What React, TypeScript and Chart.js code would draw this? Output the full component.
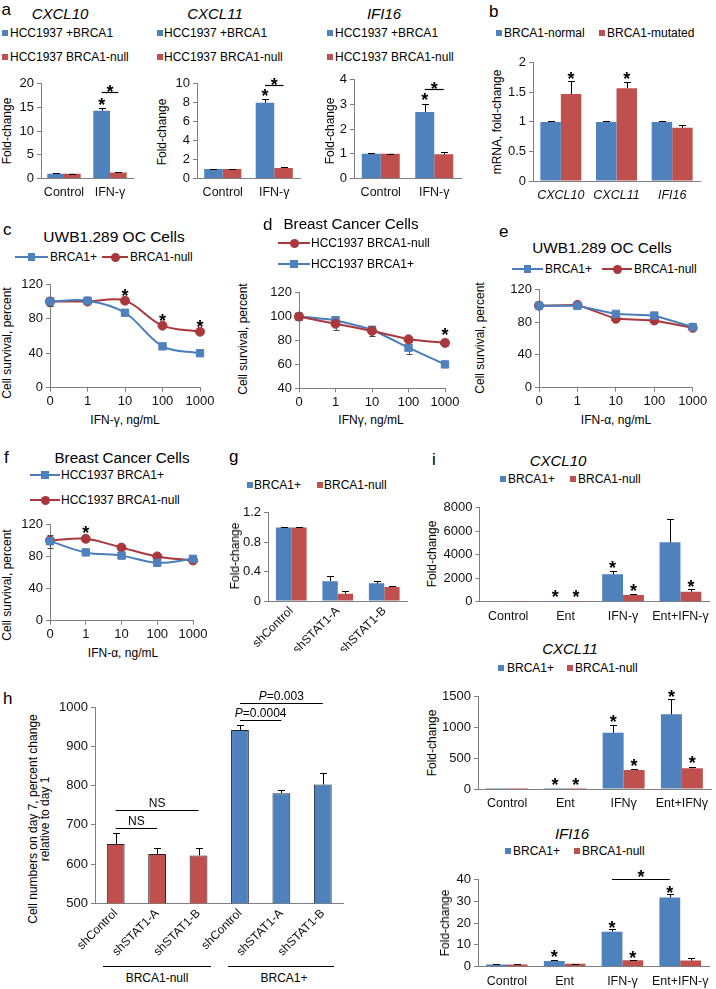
import React, { useEffect, useRef } from "react";
import { Chart, registerables } from "chart.js";

Chart.register(...registerables);

const FONT = "'Liberation Sans', Arial, Helvetica, sans-serif";
Chart.defaults.font.family = FONT;
Chart.defaults.color = "#000";

const BLUE = "#4F81BD";
const RED = "#C0504D";
const LBLUE = "#4A7EBB";
const LRED = "#A9373B";
const AXIS = "#808080";

// ---------------- DATA ----------------
// Panel a
const aCategories = ["Control", "IFN-γ"];
const aCxcl10Plus = [1, 14.3];
const aCxcl10PlusErr = [0.08, 0.6];
const aCxcl10Null = [1, 1.25];
const aCxcl10NullErr = [0.05, 0.15];
const aCxcl11Plus = [1, 8.0];
const aCxcl11PlusErr = [0.04, 0.4];
const aCxcl11Null = [1, 1.1];
const aCxcl11NullErr = [0.03, 0.1];
const aIfi16Plus = [1, 2.7];
const aIfi16PlusErr = [0.02, 0.32];
const aIfi16Null = [1, 0.98];
const aIfi16NullErr = [0.01, 0.1];

// Panel b
const bGenes = ["CXCL10", "CXCL11", "IFI16"];
const bNormal = [1, 1, 1];
const bNormalErr = [0.01, 0.01, 0.01];
const bMutated = [1.47, 1.57, 0.9];
const bMutatedErr = [0.22, 0.11, 0.05];

// Dose-response panels
const doseLabels = ["0", "1", "10", "100", "1000"];
const cPlus = [100, 101, 87, 48, 40];
const cPlusErr = [5, 2, 2, 2, 1.5];
const cNull = [100, 100, 101, 72, 65];
const cNullErr = [1, 1.5, 1, 1.5, 1.5];
const dNull = [100, 94, 88, 81, 78];
const dNullErr = [3, 5, 4, 2, 3];
const dPlus = [100, 97, 89, 74, 60];
const dPlusErr = [3, 3, 3, 5, 2];
const ePlus = [100, 100, 90, 88, 74];
const ePlusErr = [2, 1.5, 1, 1, 1];
const eNull = [100, 101, 84, 82, 73];
const eNullErr = [2, 1, 1, 1, 1];
const fPlus = [99, 85, 81, 72, 77];
const fPlusErr = [8, 2, 3, 2, 2];
const fNull = [100, 102, 91, 80, 75];
const fNullErr = [4, 3, 2, 2, 2];

// Panel g
const gLabels = ["shControl", "shSTAT1-A", "shSTAT1-B"];
const gPlus = [1, 0.27, 0.24];
const gPlusErr = [0.005, 0.07, 0.03];
const gNull = [1, 0.1, 0.19];
const gNullErr = [0.005, 0.04, 0.01];

// Panel h
const hLabels = ["shControl", "shSTAT1-A", "shSTAT1-B", "shControl", "shSTAT1-A", "shSTAT1-B"];
const hGroup = ["BRCA1-null", "BRCA1-null", "BRCA1-null", "BRCA1+", "BRCA1+", "BRCA1+"];
const hValues = [651, 626, 622, 942, 781, 803];
const hErr = [28, 14, 18, 14, 7, 30];

// Panel i
const iTreatA = ["Control", "Ent", "IFN-γ", "Ent+IFN-γ"];
const iTreatB = ["Control", "Ent", "IFNγ", "Ent+IFNγ"];
const iCxcl10Plus = [1, 0.3, 2330, 5050];
const iCxcl10PlusErr = [0, 0, 310, 1990];
const iCxcl10Null = [1, 0.1, 570, 850];
const iCxcl10NullErr = [0, 0, 80, 230];
const iCxcl11Plus = [1, 0.3, 915, 1214];
const iCxcl11PlusErr = [0, 0, 125, 250];
const iCxcl11Null = [1, 0.1, 309, 336];
const iCxcl11NullErr = [0, 0, 16, 27];
const iIfi16Plus = [1, 2.6, 16.0, 31.7];
const iIfi16PlusErr = [0.1, 0.3, 1.2, 1.4];
const iIfi16Null = [1, 1.3, 2.9, 2.8];
const iIfi16NullErr = [0.1, 0.1, 0.3, 1.0];

// ---------------- HELPERS ----------------
type Box = { x0: number; x1: number; y0: number; y1: number; l: number; r: number; t: number; b: number };
type Star = { i: number; d: number; v: number };
type Part = { t: string; it?: boolean };
type Sig = { i1: number; d1: number; i2: number; d2: number; v: number; label?: Part[]; star?: boolean; gap?: number };
type Geo = { yW: number; xH: number; pad: { left: number; right: number; top: number; bottom: number } };

const fmt = (v: number) => String(Math.round(v * 1000) / 1000);

function drawErr(chart: any) {
  const ys = chart.scales.y;
  const ctx = chart.ctx;
  chart.data.datasets.forEach((ds: any, di: number) => {
    const errs = ds.errors;
    if (!errs) return;
    const meta = chart.getDatasetMeta(di);
    meta.data.forEach((el: any, i: number) => {
      const v = ds.data[i];
      const e = errs[i];
      if (!e) return;
      const x = Math.round(el.x) + 0.5;
      const yt = Math.round(ys.getPixelForValue(v + e)) + 0.5;
      const yb = ys.getPixelForValue(ds.errorBoth ? v - e : v);
      const cap = ds.errorCap ?? 3.5;
      ctx.save();
      ctx.strokeStyle = ds.errorColor ?? "#000";
      ctx.lineWidth = 1;
      ctx.beginPath();
      ctx.moveTo(x, yb);
      ctx.lineTo(x, yt);
      ctx.moveTo(x - cap, yt);
      ctx.lineTo(x + cap, yt);
      if (ds.errorBoth) {
        const ybb = Math.round(yb) + 0.5;
        ctx.moveTo(x - cap, ybb);
        ctx.lineTo(x + cap, ybb);
      }
      ctx.stroke();
      ctx.restore();
    });
  });
}

const errorBars = {
  id: "errorBars",
  beforeDatasetsDraw(chart: any) {
    if (chart.config.type === "line") drawErr(chart);
  },
  afterDatasetsDraw(chart: any) {
    if (chart.config.type !== "line") drawErr(chart);
  },
};

const STAR_FS = 18;
function drawStar(ctx: any, x: number, cy: number) {
  ctx.save();
  ctx.font = `bold ${STAR_FS}px ${FONT}`;
  ctx.fillStyle = "#000";
  ctx.textAlign = "center";
  ctx.textBaseline = "alphabetic";
  ctx.fillText("*", x, cy + 0.575 * STAR_FS);
  ctx.restore();
}

function makeAnnot(stars: Star[], sigs: Sig[]) {
  return {
    id: "annot",
    afterDatasetsDraw(chart: any) {
      const ctx = chart.ctx;
      const ys = chart.scales.y;
      const px = (i: number, d: number) => chart.getDatasetMeta(d).data[i].x;
      for (const s of sigs) {
        const xa = px(s.i1, s.d1);
        const xb = px(s.i2, s.d2);
        const y = Math.round(ys.getPixelForValue(s.v)) + 0.5;
        ctx.save();
        ctx.strokeStyle = "#000";
        ctx.lineWidth = 1.2;
        ctx.beginPath();
        ctx.moveTo(xa, y);
        ctx.lineTo(xb, y);
        ctx.stroke();
        ctx.restore();
        const mid = (xa + xb) / 2;
        if (s.star) drawStar(ctx, mid, y - (s.gap ?? 5));
        if (s.label) {
          ctx.save();
          ctx.fillStyle = "#000";
          ctx.textBaseline = "middle";
          ctx.textAlign = "left";
          let total = 0;
          for (const p of s.label) {
            ctx.font = `${p.it ? "italic " : ""}12px ${FONT}`;
            total += ctx.measureText(p.t).width;
          }
          let cx = mid - total / 2;
          for (const p of s.label) {
            ctx.font = `${p.it ? "italic " : ""}12px ${FONT}`;
            ctx.fillText(p.t, cx, y - (s.gap ?? 7));
            cx += ctx.measureText(p.t).width;
          }
          ctx.restore();
        }
      }
      for (const s of stars) drawStar(ctx, px(s.i, s.d), ys.getPixelForValue(s.v));
    },
  };
}

function ChartCanvas({ box, build }: { box: Box; build: (g: Geo) => any }) {
  const ref = useRef<HTMLCanvasElement>(null);
  const left = Math.floor(box.x0 - box.l);
  const top = Math.floor(box.y0 - box.t);
  const width = Math.ceil(box.x1 + box.r - left);
  const height = Math.ceil(box.y1 + box.b - top);
  useEffect(() => {
    const geo: Geo = {
      yW: box.x0 - left,
      xH: top + height - box.y1,
      pad: { left: 0, bottom: 0, top: box.y0 - top, right: left + width - box.x1 },
    };
    const chart = new Chart(ref.current as HTMLCanvasElement, build(geo));
    return () => chart.destroy();
  }, []);
  return (
    <canvas
      ref={ref}
      width={width}
      height={height}
      style={{ position: "absolute", left, top, width, height }}
    />
  );
}

function yAxis(geo: Geo, min: number, max: number, step: number) {
  return {
    min,
    max,
    afterFit: (s: any) => {
      s.width = geo.yW;
    },
    ticks: { stepSize: step, font: { size: 13 }, color: "#111", padding: 3, callback: (v: any) => fmt(Number(v)) },
    grid: { display: true, drawOnChartArea: false, drawTicks: true, tickLength: 4, color: AXIS },
    border: { display: true, color: AXIS, width: 1 },
  };
}

type BarSeries = { data: number[]; err: number[]; color: string | string[]; border?: string };

function BarPanel(p: {
  box: Box;
  labels: string[];
  series: BarSeries[];
  y: [number, number, number];
  catPct: number;
  barPct?: number;
  catSize?: number;
  italic?: boolean;
  rotate?: number;
  pad?: number;
  stars?: Star[];
  sigs?: Sig[];
}) {
  return (
    <ChartCanvas
      box={p.box}
      build={(geo) => ({
        type: "bar",
        data: {
          labels: p.labels,
          datasets: p.series.map((s) => ({
            data: s.data,
            errors: s.err,
            backgroundColor: s.color,
            borderColor: s.border ?? "rgba(0,0,0,0)",
            borderWidth: s.border ? 1 : 0,
            categoryPercentage: p.catPct,
            barPercentage: p.barPct ?? 1,
          })),
        },
        options: {
          responsive: false,
          animation: false,
          events: [],
          layout: { padding: geo.pad },
          plugins: { legend: { display: false }, tooltip: { enabled: false } },
          scales: {
            x: {
              z: 1,
              afterFit: (s: any) => {
                s.height = geo.xH;
              },
              ticks: {
                font: { size: p.catSize ?? 12.5, style: p.italic ? "italic" : "normal" },
                color: "#111",
                padding: p.pad ?? 7,
                autoSkip: false,
                minRotation: p.rotate ?? 0,
                maxRotation: p.rotate ?? 0,
              },
              grid: { display: true, drawOnChartArea: false, drawTicks: false, color: AXIS },
              border: { display: true, color: AXIS, width: 1 },
            },
            y: yAxis(geo, p.y[0], p.y[1], p.y[2]),
          },
        },
        plugins: [errorBars, makeAnnot(p.stars ?? [], p.sigs ?? [])],
      })}
    />
  );
}

type LineSeries = { data: number[]; err: number[]; line: string; fill: string; marker: "rect" | "circle" };

function LinePanel(p: {
  box: Box;
  labels: string[];
  series: LineSeries[];
  y: [number, number, number];
  tension: number;
  stars?: Star[];
}) {
  return (
    <ChartCanvas
      box={p.box}
      build={(geo) => ({
        type: "line",
        data: {
          labels: p.labels,
          datasets: p.series.map((s) => ({
            data: s.data,
            errors: s.err,
            errorBoth: true,
            errorColor: "#444",
            errorCap: 3,
            borderColor: s.line,
            backgroundColor: s.fill,
            pointBackgroundColor: s.fill,
            pointBorderColor: s.fill,
            pointBorderWidth: 1,
            pointStyle: s.marker,
            pointRadius: s.marker === "rect" ? 5.2 : 4.5,
            borderWidth: 2,
            tension: p.tension,
            fill: false,
            clip: false,
          })),
        },
        options: {
          responsive: false,
          animation: false,
          events: [],
          layout: { padding: geo.pad },
          plugins: { legend: { display: false }, tooltip: { enabled: false } },
          scales: {
            x: {
              afterFit: (s: any) => {
                s.height = geo.xH;
              },
              ticks: { font: { size: 13 }, color: "#111", padding: 2, autoSkip: false, maxRotation: 0 },
              grid: { display: true, drawOnChartArea: false, drawTicks: true, tickLength: 4, color: AXIS },
              border: { display: true, color: AXIS, width: 1 },
            },
            y: yAxis(geo, p.y[0], p.y[1], p.y[2]),
          },
        },
        plugins: [errorBars, makeAnnot(p.stars ?? [], [])],
      })}
    />
  );
}

function Txt(props: {
  x: number;
  y: number;
  children: any;
  size?: number;
  align?: "left" | "center" | "right";
  rot?: number;
  it?: boolean;
  lh?: number;
}) {
  const { x, y, children, size = 12, align = "left", rot = 0, it = false, lh = 1 } = props;
  const tx = align === "center" ? "-50%" : align === "right" ? "-100%" : "0%";
  return (
    <div
      style={{
        position: "absolute",
        left: x,
        top: y,
        transform: `translate(${tx}, -50%) rotate(${rot}deg)`,
        fontSize: size,
        fontStyle: it ? "italic" : "normal",
        lineHeight: lh,
        whiteSpace: "pre",
        textAlign: "center",
        color: "#000",
        fontFamily: FONT,
      }}
    >
      {children}
    </div>
  );
}

const Letter = ({ x, base, ch }: { x: number; base: number; ch: string }) => (
  <Txt x={x} y={base - 6} size={17}>
    {ch}
  </Txt>
);

function SqKey({ x, y, color, tx, text }: { x: number; y: number; color: string; tx: number; text: string }) {
  return (
    <>
      <div style={{ position: "absolute", left: x, top: y - 3, width: 6, height: 6, background: color }} />
      <Txt x={tx} y={y}>
        {text}
      </Txt>
    </>
  );
}

function LineKey(p: { x1: number; x2: number; y: number; line: string; fill: string; marker: "rect" | "circle"; tx: number; text: string }) {
  const cx = (p.x1 + p.x2) / 2;
  const s = p.marker === "rect" ? 7.5 : 9;
  return (
    <>
      <div style={{ position: "absolute", left: p.x1, top: p.y - 1, width: p.x2 - p.x1, height: 2, background: p.line }} />
      <div
        style={{
          position: "absolute",
          left: cx - s / 2,
          top: p.y - s / 2,
          width: s,
          height: s,
          background: p.fill,
          borderRadius: p.marker === "circle" ? "50%" : 0,
        }}
      />
      <Txt x={p.tx} y={p.y}>
        {p.text}
      </Txt>
    </>
  );
}

const HLine = ({ x1, x2, y }: { x1: number; x2: number; y: number }) => (
  <div style={{ position: "absolute", left: x1, top: y, width: x2 - x1, height: 1, background: "#000" }} />
);

export default function App() {
  return (
    <div
      style={{
        position: "absolute",
        left: 0,
        top: 0,
        width: 716,
        height: 989,
        background: "#fff",
        overflow: "hidden",
        fontFamily: FONT,
      }}
    >
      {/* ---------- a ---------- */}
      <BarPanel
        box={{ x0: 41, x1: 133, y0: 83, y1: 178.5, l: 24, r: 4, t: 10, b: 26 }}
        labels={aCategories}
        series={[
          { data: aCxcl10Plus, err: aCxcl10PlusErr, color: BLUE },
          { data: aCxcl10Null, err: aCxcl10NullErr, color: RED },
        ]}
        y={[0, 20, 5]}
        catPct={0.726}
        stars={[{ i: 1, d: 0, v: 16.4 }]}
        sigs={[{ i1: 1, d1: 0, i2: 1, d2: 1, v: 18.3, star: true }]}
      />
      <BarPanel
        box={{ x0: 197, x1: 300, y0: 83, y1: 178.5, l: 24, r: 4, t: 10, b: 26 }}
        labels={aCategories}
        series={[
          { data: aCxcl11Plus, err: aCxcl11PlusErr, color: BLUE },
          { data: aCxcl11Null, err: aCxcl11NullErr, color: RED },
        ]}
        y={[0, 10, 2]}
        catPct={0.72}
        stars={[{ i: 1, d: 0, v: 9.16 }]}
        sigs={[{ i1: 1, d1: 0, i2: 1, d2: 1, v: 9.9, star: true }]}
      />
      <BarPanel
        box={{ x0: 354, x1: 461, y0: 79.5, y1: 178.5, l: 18, r: 4, t: 10, b: 26 }}
        labels={aCategories}
        series={[
          { data: aIfi16Plus, err: aIfi16PlusErr, color: BLUE },
          { data: aIfi16Null, err: aIfi16NullErr, color: RED },
        ]}
        y={[0, 4, 1]}
        catPct={0.71}
        stars={[{ i: 1, d: 0, v: 3.34 }]}
        sigs={[{ i1: 1, d1: 0, i2: 1, d2: 1, v: 3.63, star: true }]}
      />

      {/* ---------- b ---------- */}
      <BarPanel
        box={{ x0: 533, x1: 700, y0: 62, y1: 181, l: 26, r: 12, t: 10, b: 26 }}
        labels={bGenes}
        series={[
          { data: bNormal, err: bNormalErr, color: BLUE },
          { data: bMutated, err: bMutatedErr, color: RED },
        ]}
        y={[0, 2, 0.5]}
        catPct={0.736}
        italic
        stars={[
          { i: 0, d: 1, v: 1.795 },
          { i: 1, d: 1, v: 1.795 },
        ]}
      />

      {/* ---------- c ---------- */}
      <LinePanel
        box={{ x0: 50, x1: 200, y0: 284.3, y1: 387.7, l: 30, r: 20, t: 14, b: 22 }}
        labels={doseLabels}
        series={[
          { data: cPlus, err: cPlusErr, line: LBLUE, fill: BLUE, marker: "rect" },
          { data: cNull, err: cNullErr, line: LRED, fill: LRED, marker: "circle" },
        ]}
        y={[0, 120, 20]}
        tension={0.35}
        stars={[
          { i: 2, d: 1, v: 111.4 },
          { i: 3, d: 1, v: 82.4 },
          { i: 4, d: 1, v: 75.4 },
        ]}
      />

      {/* ---------- d ---------- */}
      <LinePanel
        box={{ x0: 299, x1: 445, y0: 292.7, y1: 388.3, l: 30, r: 20, t: 14, b: 22 }}
        labels={doseLabels}
        series={[
          { data: dNull, err: dNullErr, line: LRED, fill: LRED, marker: "circle" },
          { data: dPlus, err: dPlusErr, line: LBLUE, fill: BLUE, marker: "rect" },
        ]}
        y={[40, 120, 20]}
        tension={0.1}
        stars={[{ i: 4, d: 0, v: 88.4 }]}
      />

      {/* ---------- e ---------- */}
      <LinePanel
        box={{ x0: 539, x1: 692.7, y0: 289.3, y1: 387.7, l: 30, r: 20, t: 12, b: 22 }}
        labels={doseLabels}
        series={[
          { data: ePlus, err: ePlusErr, line: LBLUE, fill: BLUE, marker: "rect" },
          { data: eNull, err: eNullErr, line: LRED, fill: LRED, marker: "circle" },
        ]}
        y={[0, 120, 20]}
        tension={0}
      />

      {/* ---------- f ---------- */}
      <LinePanel
        box={{ x0: 50, x1: 193, y0: 524.3, y1: 620.7, l: 30, r: 20, t: 14, b: 22 }}
        labels={doseLabels}
        series={[
          { data: fPlus, err: fPlusErr, line: LBLUE, fill: BLUE, marker: "rect" },
          { data: fNull, err: fNullErr, line: LRED, fill: LRED, marker: "circle" },
        ]}
        y={[0, 120, 20]}
        tension={0.35}
        stars={[{ i: 1, d: 1, v: 115 }]}
      />

      {/* ---------- g ---------- */}
      <BarPanel
        box={{ x0: 268, x1: 407.5, y0: 512.3, y1: 601, l: 28, r: 6, t: 10, b: 50 }}
        labels={gLabels}
        series={[
          { data: gPlus, err: gPlusErr, color: BLUE },
          { data: gNull, err: gNullErr, color: RED },
        ]}
        y={[0, 1.2, 0.4]}
        catPct={0.66}
        catSize={12}
        rotate={45}
        pad={3}
      />

      {/* ---------- h ---------- */}
      <BarPanel
        box={{ x0: 95, x1: 343.5, y0: 707.3, y1: 903.3, l: 42, r: 8, t: 26, b: 56 }}
        labels={hLabels}
        series={[
          {
            data: hValues,
            err: hErr,
            color: hGroup.map((g) => (g === "BRCA1+" ? BLUE : RED)),
            border: "#262626",
          },
        ]}
        y={[500, 1000, 100]}
        catPct={1}
        barPct={0.43}
        catSize={12}
        rotate={45}
        pad={3}
        sigs={[
          { i1: 0, d1: 0, i2: 1, d2: 0, v: 693, label: [{ t: "NS" }] },
          { i1: 0, d1: 0, i2: 2, d2: 0, v: 738, label: [{ t: "NS" }] },
          { i1: 3, d1: 0, i2: 4, d2: 0, v: 967.6, label: [{ t: "P", it: true }, { t: "=0.0004" }] },
          { i1: 3, d1: 0, i2: 5, d2: 0, v: 1010, label: [{ t: "P", it: true }, { t: "=0.003" }] },
        ]}
      />

      {/* ---------- i ---------- */}
      <BarPanel
        box={{ x0: 479.5, x1: 714, y0: 507.7, y1: 601.7, l: 38, r: 2, t: 12, b: 22 }}
        labels={iTreatA}
        series={[
          { data: iCxcl10Plus, err: iCxcl10PlusErr, color: BLUE },
          { data: iCxcl10Null, err: iCxcl10NullErr, color: RED },
        ]}
        y={[0, 8000, 2000]}
        catPct={0.727}
        stars={[
          { i: 1, d: 0, v: 740 },
          { i: 1, d: 1, v: 740 },
          { i: 2, d: 0, v: 3209 },
          { i: 2, d: 1, v: 1310 },
          { i: 3, d: 1, v: 1651 },
        ]}
      />
      <BarPanel
        box={{ x0: 478, x1: 711, y0: 696.7, y1: 789, l: 38, r: 5, t: 14, b: 22 }}
        labels={iTreatB}
        series={[
          { data: iCxcl11Plus, err: iCxcl11PlusErr, color: BLUE },
          { data: iCxcl11Null, err: iCxcl11NullErr, color: RED },
        ]}
        y={[0, 1500, 500]}
        catPct={0.72}
        stars={[
          { i: 1, d: 0, v: 135 },
          { i: 1, d: 1, v: 135 },
          { i: 2, d: 0, v: 1162 },
          { i: 2, d: 1, v: 450 },
          { i: 3, d: 0, v: 1569 },
          { i: 3, d: 1, v: 491 },
        ]}
      />
      <BarPanel
        box={{ x0: 478, x1: 712, y0: 879.3, y1: 966.7, l: 28, r: 4, t: 16, b: 22 }}
        labels={iTreatA}
        series={[
          { data: iIfi16Plus, err: iIfi16PlusErr, color: BLUE },
          { data: iIfi16Null, err: iIfi16NullErr, color: RED },
        ]}
        y={[0, 40, 10]}
        catPct={0.72}
        stars={[
          { i: 1, d: 0, v: 6.3 },
          { i: 2, d: 0, v: 19.6 },
          { i: 2, d: 1, v: 6.0 },
          { i: 3, d: 0, v: 35.9 },
        ]}
        sigs={[{ i1: 2, d1: 0, i2: 3, d2: 0, v: 40.1, star: true, gap: 7 }]}
      />

      {/* ---------- texts: a ---------- */}
      <Letter x={1.5} base={15} ch="a" />
      <Txt x={60} y={13.3} size={15} align="center" it>
        CXCL10
      </Txt>
      <Txt x={215} y={13.3} size={15} align="center" it>
        CXCL11
      </Txt>
      <Txt x={384} y={13.3} size={15} align="center" it>
        IFI16
      </Txt>
      <SqKey x={2} y={33} color={BLUE} tx={10} text="HCC1937 +BRCA1" />
      <SqKey x={2} y={57} color={RED} tx={10} text="HCC1937 BRCA1-null" />
      <SqKey x={157} y={33} color={BLUE} tx={164} text="HCC1937 +BRCA1" />
      <SqKey x={157} y={57} color={RED} tx={164} text="HCC1937 BRCA1-null" />
      <SqKey x={327} y={33} color={BLUE} tx={335} text="HCC1937 +BRCA1" />
      <SqKey x={327} y={57} color={RED} tx={335} text="HCC1937 BRCA1-null" />
      <Txt x={6.5} y={131} align="center" rot={-90}>
        Fold-change
      </Txt>
      <Txt x={162} y={131.5} align="center" rot={-90}>
        Fold-change
      </Txt>
      <Txt x={330} y={131} align="center" rot={-90}>
        Fold-change
      </Txt>

      {/* ---------- b ---------- */}
      <Letter x={489} base={16.5} ch="b" />
      <SqKey x={496} y={33} color={BLUE} tx={504} text="BRCA1-normal" />
      <SqKey x={599} y={33} color={RED} tx={607} text="BRCA1-mutated" />
      <Txt x={497} y={121.5} align="center" rot={-90}>
        mRNA, fold-change
      </Txt>

      {/* ---------- c ---------- */}
      <Letter x={3} base={235} ch="c" />
      <Txt x={114} y={237} size={15.5} align="center">
        UWB1.289 OC Cells
      </Txt>
      <LineKey x1={15} x2={48} y={257} line={LBLUE} fill={BLUE} marker="rect" tx={50} text="BRCA1+" />
      <LineKey x1={102} x2={128} y={257} line={LRED} fill={LRED} marker="circle" tx={130} text="BRCA1-null" />
      <Txt x={7} y={343} align="center" rot={-90}>
        Cell survival, percent
      </Txt>
      <Txt x={125} y={420} align="center">
        IFN-γ, ng/mL
      </Txt>

      {/* ---------- d ---------- */}
      <Letter x={263} base={229.5} ch="d" />
      <Txt x={351} y={224} size={15.2} align="center">
        Breast Cancer Cells
      </Txt>
      <LineKey x1={278} x2={310} y={243} line={LRED} fill={LRED} marker="circle" tx={311} text="HCC1937 BRCA1-null" />
      <LineKey x1={278} x2={310} y={264} line={LBLUE} fill={BLUE} marker="rect" tx={311} text="HCC1937 BRCA1+" />
      <Txt x={243} y={339} align="center" rot={-90}>
        Cell survival, percent
      </Txt>
      <Txt x={371} y={420} align="center">
        IFNγ, ng/mL
      </Txt>

      {/* ---------- e ---------- */}
      <Letter x={499} base={237} ch="e" />
      <Txt x={602} y={248} size={15.3} align="center">
        UWB1.289 OC Cells
      </Txt>
      <LineKey x1={512} x2={543} y={269} line={LBLUE} fill={BLUE} marker="rect" tx={545} text="BRCA1+" />
      <LineKey x1={602} x2={632} y={269} line={LRED} fill={LRED} marker="circle" tx={634} text="BRCA1-null" />
      <Txt x={480} y={338} align="center" rot={-90}>
        Cell survival, percent
      </Txt>
      <Txt x={616} y={420} align="center">
        IFN-α, ng/mL
      </Txt>

      {/* ---------- f ---------- */}
      <Letter x={4} base={463} ch="f" />
      <Txt x={122} y={457.5} size={15.2} align="center">
        Breast Cancer Cells
      </Txt>
      <LineKey x1={30} x2={60} y={475} line={LBLUE} fill={BLUE} marker="rect" tx={61} text="HCC1937 BRCA1+" />
      <LineKey x1={30} x2={60} y={500} line={LRED} fill={LRED} marker="circle" tx={61} text="HCC1937 BRCA1-null" />
      <Txt x={7} y={585} align="center" rot={-90}>
        Cell survival, percent
      </Txt>
      <Txt x={123} y={653} align="center">
        IFN-α, ng/mL
      </Txt>

      {/* ---------- g ---------- */}
      <Letter x={229} base={462} ch="g" />
      <SqKey x={247} y={485} color={BLUE} tx={254} text="BRCA1+" />
      <SqKey x={317} y={485} color={RED} tx={324} text="BRCA1-null" />
      <Txt x={235} y={556} align="center" rot={-90}>
        Fold-change
      </Txt>

      {/* ---------- h ---------- */}
      <Letter x={3} base={704} ch="h" />
      <Txt x={39} y={819} align="center" rot={-90}>
        {"Cell numbers on day 7, percent change\nrelative to day 1"}
      </Txt>
      <HLine x1={103} x2={211} y={966} />
      <HLine x1={228} x2={334} y={966} />
      <Txt x={157} y={978} align="center">
        BRCA1-null
      </Txt>
      <Txt x={284} y={978} align="center">
        BRCA1+
      </Txt>

      {/* ---------- i ---------- */}
      <Letter x={432} base={465} ch="i" />
      <Txt x={558} y={460} size={15} align="center" it>
        CXCL10
      </Txt>
      <SqKey x={500} y={479} color={BLUE} tx={508} text="BRCA1+" />
      <SqKey x={570} y={479} color={RED} tx={578} text="BRCA1-null" />
      <Txt x={432} y={554} align="center" rot={-90}>
        Fold-change
      </Txt>
      <Txt x={570} y={648} size={15} align="center" it>
        CXCL11
      </Txt>
      <SqKey x={498} y={668} color={BLUE} tx={507} text="BRCA1+" />
      <SqKey x={567} y={668} color={RED} tx={575} text="BRCA1-null" />
      <Txt x={432} y={743} align="center" rot={-90}>
        Fold-change
      </Txt>
      <Txt x={572} y={833} size={15} align="center" it>
        IFI16
      </Txt>
      <SqKey x={505} y={851} color={BLUE} tx={513} text="BRCA1+" />
      <SqKey x={574} y={851} color={RED} tx={582} text="BRCA1-null" />
      <Txt x={445} y={923} align="center" rot={-90}>
        Fold-change
      </Txt>
    </div>
  );
}
